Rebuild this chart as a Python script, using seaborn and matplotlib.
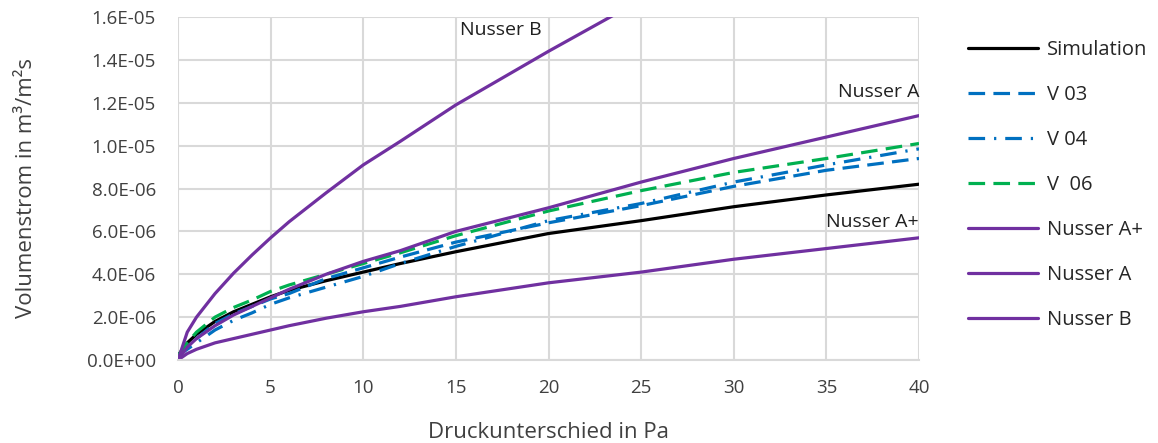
import matplotlib
matplotlib.use("Agg")
import matplotlib.pyplot as plt
import seaborn as sns
import pandas as pd
import numpy as np
from matplotlib.ticker import FuncFormatter

# ---- data ----
x_vals = [0, 0.5, 1, 2, 3, 4, 5, 6, 8, 10, 12, 15, 20, 25, 30, 35, 40]
simulation = [0.2e-6, 0.8e-6, 1.2e-6, 1.8e-6, 2.25e-6, 2.6e-6, 2.95e-6, 3.25e-6, 3.7e-6, 4.1e-6, 4.5e-6, 5.05e-6, 5.9e-6, 6.5e-6, 7.15e-6, 7.7e-6, 8.2e-6]
v03 = [0.2e-6, 0.6e-6, 1.0e-6, 1.7e-6, 2.15e-6, 2.5e-6, 2.85e-6, 3.1e-6, 3.8e-6, 4.3e-6, 4.8e-6, 5.5e-6, 6.4e-6, 7.2e-6, 8.1e-6, 8.85e-6, 9.4e-6]
v04 = [0.2e-6, 0.5e-6, 0.8e-6, 1.4e-6, 1.85e-6, 2.2e-6, 2.6e-6, 2.9e-6, 3.4e-6, 3.9e-6, 4.5e-6, 5.3e-6, 6.5e-6, 7.3e-6, 8.3e-6, 9.1e-6, 9.85e-6]
v06 = [0.2e-6, 0.8e-6, 1.3e-6, 2.0e-6, 2.45e-6, 2.8e-6, 3.2e-6, 3.5e-6, 4.0e-6, 4.5e-6, 5.0e-6, 5.8e-6, 6.95e-6, 7.9e-6, 8.75e-6, 9.4e-6, 1.01e-5]
nusser_a_plus = [0, 0.3e-6, 0.5e-6, 0.8e-6, 1.0e-6, 1.2e-6, 1.4e-6, 1.6e-6, 1.95e-6, 2.25e-6, 2.5e-6, 2.95e-6, 3.6e-6, 4.1e-6, 4.7e-6, 5.2e-6, 5.7e-6]
nusser_a = [0, 0.6e-6, 1.0e-6, 1.6e-6, 2.1e-6, 2.5e-6, 2.9e-6, 3.3e-6, 4.0e-6, 4.6e-6, 5.1e-6, 6.0e-6, 7.1e-6, 8.3e-6, 9.4e-6, 1.04e-5, 1.14e-5]
nusser_b = [0, 1.3e-6, 2.0e-6, 3.1e-6, 4.05e-6, 4.9e-6, 5.7e-6, 6.45e-6, 7.8e-6, 9.1e-6, 1.02e-5, 1.19e-5, 1.44e-5, 1.68e-5, 1.9e-5, 2.1e-5, 2.3e-5]

series_names = ["Simulation", "V 03", "V 04", "V  06", "Nusser A+", "Nusser A", "Nusser B"]
series_values = [simulation, v03, v04, v06, nusser_a_plus, nusser_a, nusser_b]
y_ticks = [0, 2e-6, 4e-6, 6e-6, 8e-6, 1.0e-5, 1.2e-5, 1.4e-5, 1.6e-5]
x_ticks = [0, 5, 10, 15, 20, 25, 30, 35, 40]

df = pd.concat([pd.DataFrame({"x": x_vals, "y": v, "series": n})
                for n, v in zip(series_names, series_values)], ignore_index=True)

palette = {"Simulation": "#000000", "V 03": "#0070C0", "V 04": "#0070C0",
           "V  06": "#00B050", "Nusser A+": "#7030A0", "Nusser A": "#7030A0",
           "Nusser B": "#7030A0"}
dashes = {"Simulation": "", "V 03": (5.2, 2.6), "V 04": (5.2, 2.8, 0.7, 2.8),
          "V  06": (5.2, 2.6), "Nusser A+": "", "Nusser A": "", "Nusser B": ""}

sns.set_style("white")
plt.rcParams["font.family"] = ["Open Sans", "DejaVu Sans"]

fig = plt.figure(figsize=(11.58, 4.43), dpi=100)
ax = fig.add_axes([178/1158, 1 - 360/443, (919-178)/1158, (360-17)/443])

sns.lineplot(data=df, x="x", y="y", hue="series", style="series",
             palette=palette, dashes=dashes, linewidth=2.3, ax=ax,
             hue_order=series_names, style_order=series_names, legend=True)

ax.set_xlim(0, 40)
ax.set_ylim(0, 1.6e-5)
ax.set_xticks(x_ticks)
ax.set_yticks(y_ticks)
ax.yaxis.set_major_formatter(FuncFormatter(lambda v, p: f"{v:.1E}"))
ax.grid(True, color="#d9d9d9", linewidth=1.5)
ax.set_axisbelow(True)
for s in ["top", "right", "left"]:
    ax.spines[s].set_visible(False)
ax.spines["bottom"].set_color("#d9d9d9")
ax.spines["bottom"].set_linewidth(1.5)
ax.tick_params(axis="both", length=0, labelsize=13.5, colors="#404040")
ax.tick_params(axis="y", pad=16)
ax.tick_params(axis="x", pad=14)

ax.set_xlabel("Druckunterschied in Pa", fontsize=16, color="#404040", labelpad=18)
ax.set_ylabel("Volumenstrom in m³/m²s", fontsize=16, color="#404040", labelpad=36)

ax.text(17.4, 1.54e-5, "Nusser B", fontsize=14, color="#202020", ha="center", va="center")
ax.text(40, 1.25e-5, "Nusser A", fontsize=14, color="#202020", ha="right", va="center")
ax.text(40, 6.42e-6, "Nusser A+", fontsize=14, color="#202020", ha="right", va="center")

handles, labels = ax.get_legend_handles_labels()
ax.legend(handles, labels, loc="upper left", bbox_to_anchor=(950/1158, 1 - 22/443),
          bbox_transform=fig.transFigure, frameon=False, fontsize=14.5,
          handlelength=3.45, labelspacing=1.24, handletextpad=0.45)

fig.savefig("out.png", dpi=100)
